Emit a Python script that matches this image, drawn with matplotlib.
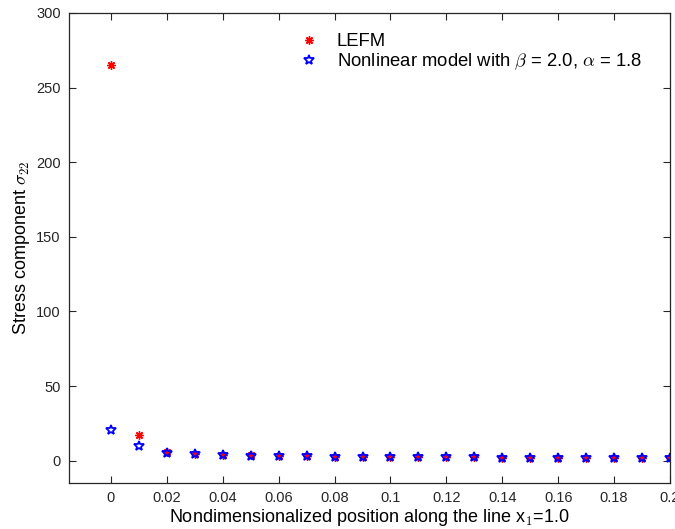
import matplotlib
matplotlib.use("Agg")
import matplotlib.pyplot as plt
import numpy as np

plt.rcParams["font.family"] = ["Liberation Sans", "DejaVu Sans"]
plt.rcParams["mathtext.fontset"] = "cm"

x_pos = [0.00, 0.01, 0.02, 0.03, 0.04, 0.05, 0.06, 0.07, 0.08, 0.09, 0.10,
         0.11, 0.12, 0.13, 0.14, 0.15, 0.16, 0.17, 0.18, 0.19, 0.20]
lefm = [265.0, 17.5, 5.8, 4.6, 3.9, 3.5, 3.2, 2.9, 2.7, 2.6, 2.4,
        2.3, 2.2, 2.1, 2.0, 1.95, 1.9, 1.85, 1.8, 1.75, 1.7]
nonlinear = [20.8, 9.8, 5.4, 4.4, 3.8, 3.4, 3.1, 2.9, 2.7, 2.6, 2.4,
             2.3, 2.2, 2.1, 2.0, 1.95, 1.9, 1.85, 1.8, 1.75, 1.7]

xticks = np.round(np.arange(0, 0.201, 0.02), 2)
xtick_labels = ["0", "0.02", "0.04", "0.06", "0.08", "0.1", "0.12",
                "0.14", "0.16", "0.18", "0.2"]
yticks = [0, 50, 100, 150, 200, 250, 300]

fig = plt.figure(figsize=(6.75, 5.29), dpi=100)
ax = fig.add_axes([69 / 675, 1 - 483 / 529, 601 / 675, 470 / 529])

ax.plot(x_pos, lefm, linestyle="none", marker=(8, 2, 0), markersize=6,
        color="red", markeredgewidth=1.0, label="LEFM")
ax.plot(x_pos, nonlinear, linestyle="none", marker="*", markersize=7,
        markerfacecolor="none", markeredgecolor="blue", markeredgewidth=1.3,
        label=r"Nonlinear model with $\beta$ = 2.0, $\alpha$ = 1.8")

ax.set_xlim(-0.015, 0.2)
ax.set_ylim(-15, 300)
ax.set_xticks(xticks)
ax.set_xticklabels(xtick_labels)
ax.set_yticks(yticks)
ax.tick_params(direction="in", top=True, right=True, labelsize=10.5,
               length=5, width=0.8, colors="#262626", pad=6)
for s in ax.spines.values():
    s.set_color("#262626")
    s.set_linewidth(0.9)

ax.set_xlabel(r"Nondimensionalized position along the line x$_1$=1.0",
              fontsize=13, labelpad=1)
ax.set_ylabel(r"Stress component $\sigma_{22}$", fontsize=13, labelpad=3)

ax.legend(loc="upper right", frameon=False, fontsize=13.3, handlelength=1.0,
          handletextpad=1.0, borderaxespad=0.3, labelspacing=0.1,
          bbox_to_anchor=(0.975, 0.985))

fig.savefig("out.png", dpi=100)
